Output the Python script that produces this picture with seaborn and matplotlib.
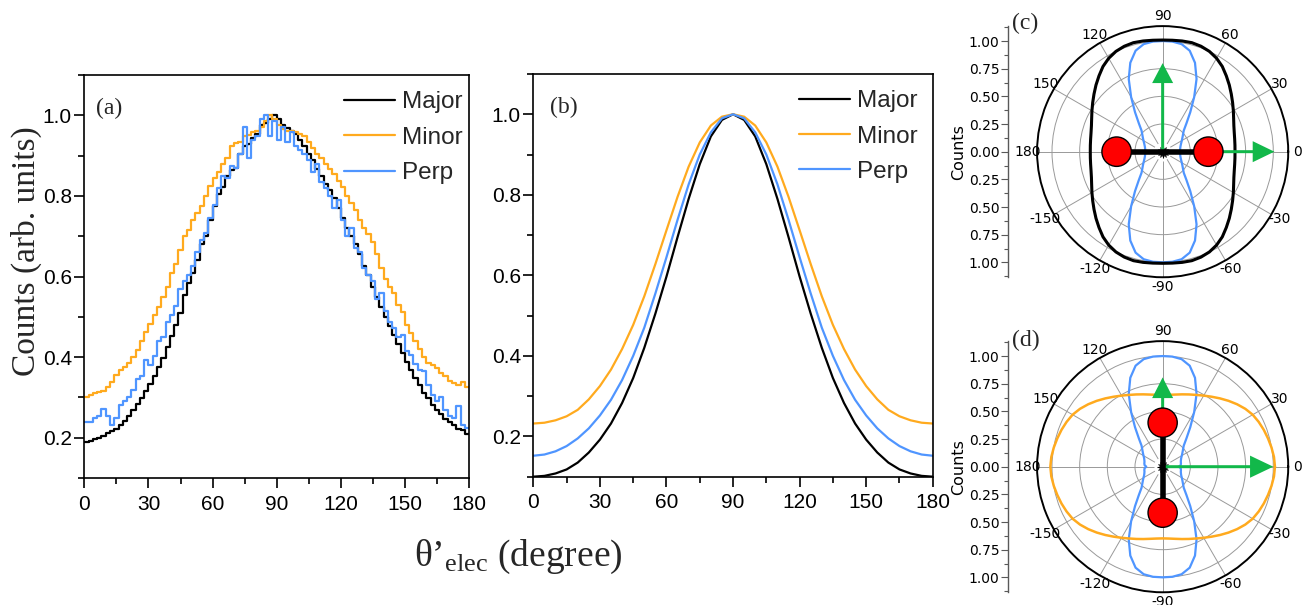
import numpy as np
import pandas as pd
import matplotlib
matplotlib.use('Agg')
import matplotlib.pyplot as plt
import seaborn as sns
from matplotlib.lines import Line2D
from matplotlib.patches import Circle
from matplotlib.ticker import MultipleLocator, FixedLocator, FuncFormatter

sns.set_theme(style='ticks')
plt.rcParams['font.family'] = ['Liberation Sans', 'DejaVu Sans']
plt.rcParams['mathtext.fontset'] = 'custom'
plt.rcParams['mathtext.rm'] = 'Liberation Serif'
plt.rcParams['mathtext.it'] = 'Liberation Serif:italic'

#####################################################################
# (a) measured distributions, 2 degree bins
bin_edges = np.arange(0, 182, 2)
major_hist = [0.190, 0.193, 0.196, 0.200, 0.205, 0.212, 0.216, 0.222, 0.232, 0.242,
              0.255, 0.268, 0.283, 0.298, 0.315, 0.334, 0.352, 0.375, 0.398, 0.425,
              0.452, 0.480, 0.510, 0.553, 0.585, 0.610, 0.640, 0.680, 0.700, 0.740,
              0.775, 0.805, 0.822, 0.850, 0.865, 0.870, 0.905, 0.925, 0.930, 0.945,
              0.955, 0.975, 0.980, 0.990, 1.000, 0.990, 0.975, 0.968, 0.962, 0.955,
              0.940, 0.925, 0.905, 0.890, 0.868, 0.850, 0.830, 0.815, 0.795, 0.770,
              0.745, 0.720, 0.700, 0.680, 0.655, 0.625, 0.605, 0.575, 0.548, 0.525,
              0.500, 0.478, 0.455, 0.432, 0.410, 0.388, 0.368, 0.348, 0.332, 0.312,
              0.298, 0.282, 0.268, 0.258, 0.246, 0.238, 0.232, 0.222, 0.218, 0.208]
minor_hist = [0.300, 0.305, 0.310, 0.313, 0.316, 0.325, 0.338, 0.355, 0.368, 0.375,
              0.385, 0.400, 0.418, 0.440, 0.462, 0.482, 0.505, 0.525, 0.550, 0.575,
              0.610, 0.630, 0.665, 0.700, 0.715, 0.740, 0.758, 0.775, 0.800, 0.825,
              0.845, 0.860, 0.880, 0.895, 0.925, 0.932, 0.935, 0.948, 0.952, 0.958,
              0.962, 0.972, 0.985, 1.000, 0.990, 0.975, 0.965, 0.962, 0.960, 0.958,
              0.955, 0.950, 0.935, 0.920, 0.905, 0.895, 0.880, 0.868, 0.855, 0.838,
              0.822, 0.800, 0.782, 0.765, 0.740, 0.720, 0.705, 0.685, 0.655, 0.620,
              0.595, 0.575, 0.560, 0.530, 0.512, 0.480, 0.460, 0.440, 0.420, 0.400,
              0.385, 0.380, 0.372, 0.360, 0.352, 0.342, 0.336, 0.330, 0.338, 0.326]
perp_hist = [0.240, 0.238, 0.248, 0.255, 0.272, 0.255, 0.232, 0.248, 0.280, 0.290,
             0.300, 0.318, 0.345, 0.352, 0.392, 0.380, 0.402, 0.440, 0.450, 0.488,
             0.505, 0.528, 0.570, 0.588, 0.605, 0.625, 0.660, 0.690, 0.708, 0.745,
             0.778, 0.820, 0.850, 0.845, 0.875, 0.870, 0.905, 0.970, 0.895, 0.940,
             0.950, 0.990, 1.000, 0.950, 0.985, 0.940, 0.972, 0.935, 0.958, 0.925,
             0.915, 0.905, 0.890, 0.860, 0.880, 0.835, 0.820, 0.800, 0.770, 0.790,
             0.740, 0.700, 0.720, 0.670, 0.660, 0.620, 0.603, 0.590, 0.545, 0.560,
             0.515, 0.488, 0.472, 0.450, 0.455, 0.415, 0.405, 0.382, 0.368, 0.365,
             0.330, 0.305, 0.290, 0.300, 0.270, 0.255, 0.250, 0.278, 0.232, 0.225]

# (b) model curves, 0..90 deg every 5 deg (symmetric about 90)
model_theta = np.arange(0, 181, 5)
major_model_half = [0.100, 0.102, 0.108, 0.118, 0.135, 0.160, 0.192, 0.232, 0.283, 0.345,
                    0.420, 0.505, 0.597, 0.695, 0.790, 0.876, 0.945, 0.986, 1.000]
minor_model_half = [0.232, 0.234, 0.240, 0.250, 0.266, 0.292, 0.325, 0.366, 0.417, 0.477,
                    0.548, 0.628, 0.712, 0.795, 0.870, 0.930, 0.972, 0.994, 1.000]
perp_model_half = [0.152, 0.155, 0.163, 0.176, 0.195, 0.220, 0.252, 0.291, 0.340, 0.400,
                   0.470, 0.555, 0.645, 0.738, 0.826, 0.900, 0.955, 0.990, 1.000]

# (c)/(d) polar counts, one quadrant 0..90 deg every 5 deg
major_polar_q = [0.654, 0.656, 0.661, 0.670, 0.685, 0.708, 0.738, 0.772, 0.810, 0.852,
                 0.895, 0.940, 0.975, 1.000, 1.014, 1.020, 1.016, 1.011, 1.009]
perp_polar_c_q = [0.157, 0.158, 0.161, 0.166, 0.174, 0.185, 0.200, 0.218, 0.240, 0.270,
                  0.335, 0.435, 0.570, 0.725, 0.855, 0.945, 0.987, 0.999, 1.000]
perp_polar_d_q = [0.148, 0.164, 0.168, 0.170, 0.176, 0.185, 0.200, 0.218, 0.240, 0.270,
                  0.335, 0.435, 0.570, 0.725, 0.855, 0.945, 0.987, 0.999, 1.000]
minor_polar_q = [1.015, 1.010, 0.999, 0.986, 0.973, 0.958, 0.940, 0.912, 0.878, 0.842,
                 0.806, 0.772, 0.742, 0.716, 0.695, 0.677, 0.662, 0.652, 0.648]

names = ['Major', 'Minor', 'Perp']
colors = ['black', '#FFAA1E', '#4F95FF']
green = '#12B84A'


def mirror_half(h):
    h = list(h)
    return h + h[-2::-1]


def full_circle(q):
    q = list(q)
    return q + q[-2::-1] + q[1:] + q[-2::-1]


polar_theta = np.deg2rad(np.arange(0, 361, 5))

fig = plt.figure(figsize=(13.04, 6.05), dpi=100)
ax_a = fig.add_axes([0.0647, 0.2099, 0.295, 0.666])
ax_b = fig.add_axes([0.409, 0.2121, 0.3063, 0.6656])

# ---- (a) step histograms
centers = bin_edges[:-1] + 1
hist_df = pd.DataFrame({'theta': np.tile(centers, 3),
                        'counts': major_hist + minor_hist + perp_hist,
                        'series': np.repeat(names, len(centers))})
for name, color in zip(names, colors):
    sub = hist_df[hist_df['series'] == name]
    sns.histplot(data=sub, x='theta', weights='counts', bins=len(centers),
                 binrange=(bin_edges[0], bin_edges[-1]), element='step',
                 fill=False, color=color, linewidth=1.6, ax=ax_a)

# ---- (b) model curves
model_df = pd.DataFrame({'theta': np.tile(model_theta, 3),
                         'counts': mirror_half(major_model_half) + mirror_half(minor_model_half)
                         + mirror_half(perp_model_half),
                         'series': np.repeat(names, len(model_theta))})
sns.lineplot(data=model_df, x='theta', y='counts', hue='series', palette=dict(zip(names, colors)),
             linewidth=1.6, legend=False, ax=ax_b)

for ax, lab, lx, leg_x in ((ax_a, '(a)', 0.03, 1.0), (ax_b, '(b)', 0.042, 0.978)):
    ax.set_xlim(0, 180)
    ax.set_ylim(0.1, 1.1)
    ax.set_xticks(range(0, 181, 30))
    ax.xaxis.set_minor_locator(MultipleLocator(15))
    ax.set_yticks([0.2, 0.4, 0.6, 0.8, 1.0])
    ax.yaxis.set_minor_locator(MultipleLocator(0.1))
    ax.tick_params(which='both', direction='out', bottom=True, left=True, top=False, right=False,
                   labelsize=15, width=1.2, colors='black', pad=2)
    ax.tick_params(axis='x', which='major', pad=5)
    ax.tick_params(which='major', length=7)
    ax.tick_params(which='minor', length=4)
    for s in ax.spines.values():
        s.set_color('black')
        s.set_linewidth(1.2)
    ax.set_xlabel('')
    ax.set_ylabel('')
    handles = [Line2D([], [], color=c, lw=1.6) for c in colors]
    ax.legend(handles, names, loc='upper right', bbox_to_anchor=(leg_x, 0.975), frameon=False,
              fontsize=17.5, handlelength=2.1, handletextpad=0.3, labelspacing=0.55,
              borderpad=0.1, borderaxespad=0.15)
    ax.text(lx, 0.918, lab, transform=ax.transAxes, va='center', ha='left', fontsize=17,
            family='Liberation Serif')

fig.text(26.7 / 1304, 1 - 251.5 / 605, 'Counts (arb. units)', rotation=90, va='center', ha='center',
         fontsize=24, family='Liberation Serif')
fig.text(518 / 1304, 1 - 557 / 605, r"$\mathrm{θ’_{elec}}$ (degree)", va='center', ha='center',
         fontsize=27, family='Liberation Serif')

# ---- (c), (d) polar panels
rmax = 1.135
theta_labels = ['0', '30', '60', '90', '120', '150', '180', '-150', '-120', '-90', '-60', '-30']


def polar_panel(rect_y, curves, label, label_y):
    rect = [0.7953, rect_y, 0.1926, 0.4152]
    axp = fig.add_axes(rect, projection='polar')
    axp.set_ylim(0, rmax)
    axp.set_yticks([0.25, 0.5, 0.75, 1.0])
    axp.set_yticklabels([])
    axp.grid(True, axis='y', color='0.6', lw=0.7)
    axp.grid(False, axis='x')
    spokes = np.deg2rad(np.arange(0, 360, 30))
    axp.vlines(spokes, 0.08, rmax, color='0.6', lw=0.7, zorder=0.5)
    axp.set_xticks(spokes)
    axp.set_xticklabels(theta_labels, fontsize=10, family='DejaVu Sans')
    axp.set_xticks(np.deg2rad(np.arange(15, 360, 30)), minor=True)
    axp.tick_params(axis='x', which='both', bottom=True, top=False, direction='out', width=0.8,
                    colors='black', pad=-4)
    axp.tick_params(axis='x', which='major', length=4)
    axp.tick_params(axis='x', which='minor', length=3)
    axp.tick_params(axis='y', length=0)
    axp.spines['polar'].set_color('black')
    axp.spines['polar'].set_linewidth(1.4)
    for r, color, lw in curves:
        sns.lineplot(x=polar_theta, y=r, color=color, linewidth=lw, sort=False, estimator=None, ax=axp)
    axp.set_xlabel('')
    axp.set_ylabel('')

    axm = fig.add_axes(rect)
    axm.set_xlim(-rmax, rmax)
    axm.set_ylim(-rmax, rmax)
    axm.axis('off')

    axc = fig.add_axes([1008 / 1304, rect_y, 0.0005, 0.4152])
    axc.set_ylim(-rmax, rmax)
    axc.set_xticks([])
    for s in ['top', 'right', 'bottom']:
        axc.spines[s].set_visible(False)
    axc.spines['left'].set_color('0.35')
    axc.spines['left'].set_linewidth(1.0)
    axc.set_yticks(np.arange(-1, 1.01, 0.25))
    axc.yaxis.set_major_formatter(FuncFormatter(lambda v, p: f'{abs(v):.2f}'))
    axc.yaxis.set_minor_locator(FixedLocator(np.arange(-1.125, 1.13, 0.25)))
    axc.tick_params(axis='y', which='both', direction='out', left=True, labelsize=10,
                    colors='0.35', labelcolor='black', pad=1, width=0.8)
    axc.tick_params(axis='y', which='major', length=5)
    axc.tick_params(axis='y', which='minor', length=3)
    for t in axc.get_yticklabels():
        t.set_family('DejaVu Sans')
    axc.set_ylabel('Counts', fontsize=11.5, family='DejaVu Sans', labelpad=2, color='black')

    fig.text(1012 / 1304, 1 - label_y / 605, label, va='center', ha='left', fontsize=17,
             family='Liberation Serif')
    return axm


axm_c = polar_panel(0.5417, [(full_circle(perp_polar_c_q), colors[2], 1.6),
                             (full_circle(major_polar_q), 'black', 2.2)], '(c)', 23)
axm_c.arrow(0, 0, 0, 0.8, width=0.027, head_width=0.19, head_length=0.18,
            length_includes_head=True, fc=green, ec='none', zorder=2)
axm_c.arrow(0.54, 0, 0.47, 0, width=0.027, head_width=0.19, head_length=0.196,
            length_includes_head=True, fc=green, ec='none', zorder=2)
axm_c.plot([-0.415, 0.415], [0, 0], color='black', lw=4, zorder=3, solid_capstyle='butt')
for cx in (-0.416, 0.413):
    axm_c.add_patch(Circle((cx, 0), 0.133, fc='red', ec='black', lw=1, zorder=4))

axm_d = polar_panel(0.021, [(full_circle(perp_polar_d_q), colors[2], 1.6),
                            (full_circle(minor_polar_q), colors[1], 1.8)], '(d)', 340)
axm_d.arrow(0, 0.45, 0, 0.357, width=0.027, head_width=0.19, head_length=0.187,
            length_includes_head=True, fc=green, ec='none', zorder=2)
axm_d.arrow(0, 0, 1.0, 0, width=0.027, head_width=0.2, head_length=0.21,
            length_includes_head=True, fc=green, ec='none', zorder=2)
axm_d.plot([0, 0], [-0.416, 0.398], color='black', lw=4, zorder=3, solid_capstyle='butt')
for cy in (0.398, -0.416):
    axm_d.add_patch(Circle((0, cy), 0.132, fc='red', ec='black', lw=1, zorder=4))

fig.savefig('out.png', dpi=100)
